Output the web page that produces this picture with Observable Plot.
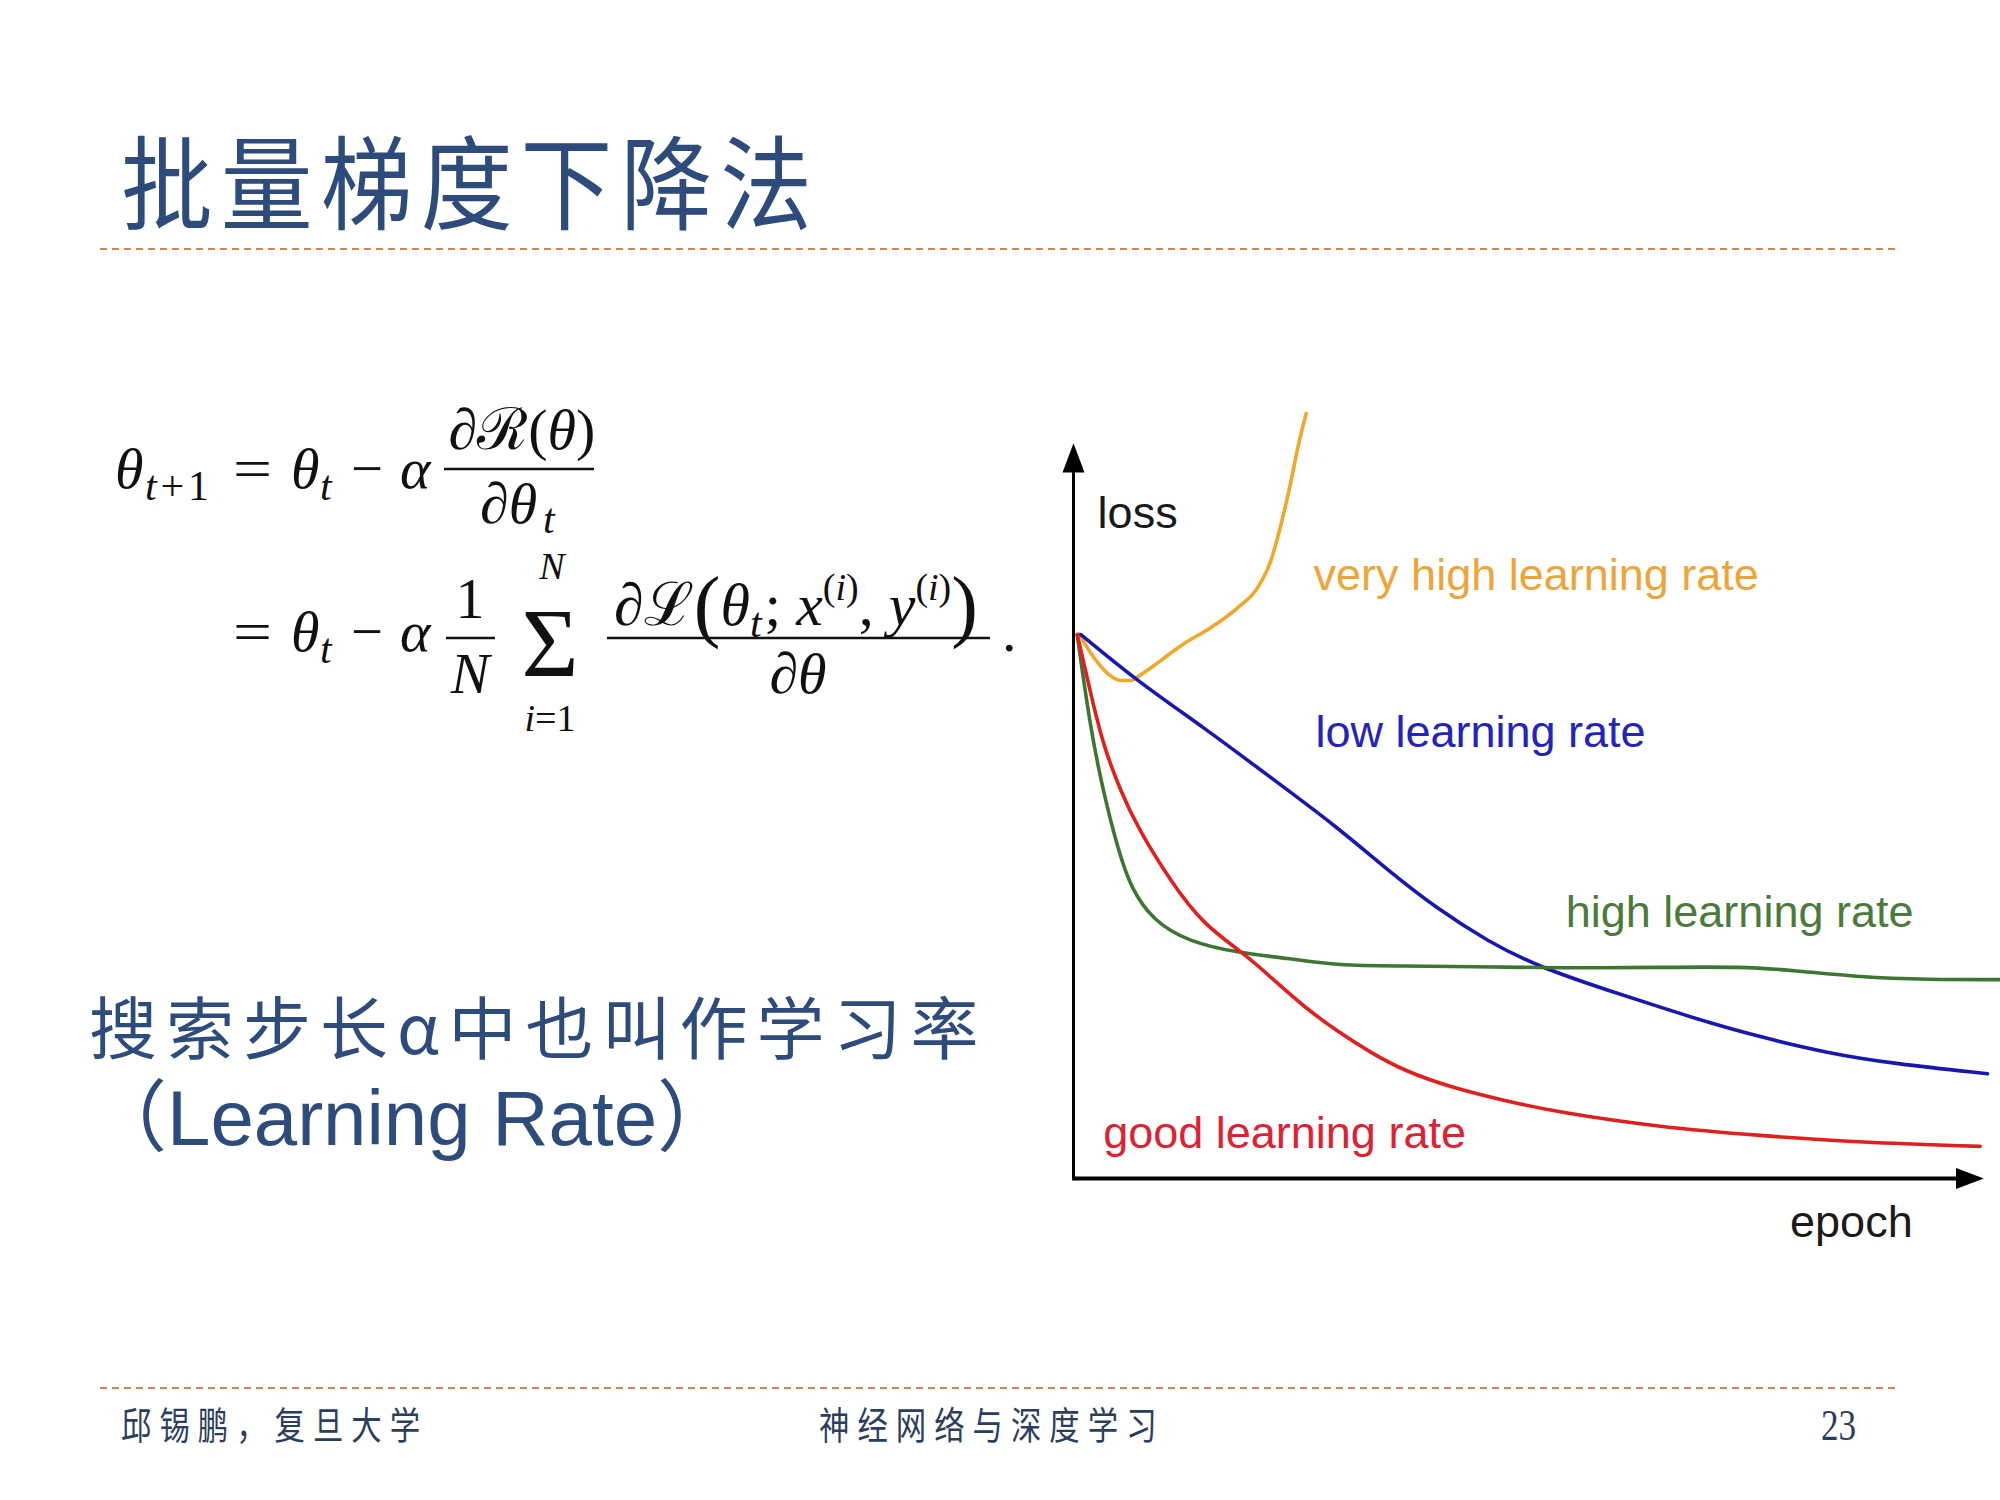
<!DOCTYPE html>
<html>
<head>
<meta charset="utf-8">
<script src="https://cdn.jsdelivr.net/npm/d3@7"></script>
<script src="https://cdn.jsdelivr.net/npm/@observablehq/plot@0.6"></script>
<style>
html, body { margin: 0; padding: 0; background: #fff; }
#page { position: relative; width: 2000px; height: 1500px; overflow: hidden; background: #fff; }
#deco { position: absolute; left: 0; top: 0; }
#chart { position: absolute; left: 1000px; top: 380px; }
</style>
</head>
<body>
<div id="page">
  <svg id="deco" width="2000" height="1500"></svg>
  <div id="chart"></div>
</div>
<script>
// ---------------- data (epoch 0–100, loss 0–100 arbitrary units) ----------------
const seriesNames = ["very high learning rate", "low learning rate", "high learning rate", "good learning rate"];
const lineColors  = ["#F0A82A", "#1818B0", "#3F7532", "#E0201E"];
const labelColors = ["#EDA53A", "#2424BB", "#4C7A3C", "#DD2233"];
const lineCurves  = ["monotone-x", "basis", "basis", "basis"];

const veryHighEpoch = [0.6, 2.2, 3.7, 5.1, 6.2, 7.2, 9.4, 11.9, 14.8, 17.7, 19.9, 21.3, 22.3, 23.4, 24.3, 25.1];
const veryHighLoss  = [71.2, 68.1, 66.0, 65.1, 65.1, 65.8, 67.7, 69.9, 72.0, 74.6, 77.3, 80.8, 85.1, 90.8, 96.1, 100];

const lowEpoch = [0.8, 6.9, 14.0, 21.3, 28.5, 33.9, 39.3, 44.7, 50.1, 57.9, 63.3, 68.7, 74.1, 81.3, 88.5, 98.6];
const lowLoss  = [71.1, 65.0, 59.0, 52.4, 45.9, 40.3, 35.2, 31.0, 27.7, 24.5, 22.4, 20.3, 18.5, 16.4, 15.0, 13.7];

const highEpoch = [0.4, 1.8, 3.2, 4.8, 6.2, 8.6, 12.3, 17.7, 23.1, 28.5, 35.6, 42.8, 52.5, 63.3, 72.3, 77.7, 84.9, 92.1, 100];
const highLoss  = [71.1, 59.0, 50.6, 43.0, 37.9, 33.7, 31.0, 29.5, 28.8, 27.8, 27.8, 27.7, 27.5, 27.6, 27.7, 27.2, 26.3, 26.0, 26.0];

const goodEpoch = [0.4, 1.8, 3.2, 5.1, 6.9, 10.5, 14.0, 18.3, 21.3, 24.8, 28.5, 32.0, 35.6, 41.0, 46.4, 52.5, 63.3, 74.1, 84.9, 97.8];
const goodLoss  = [71.1, 63.7, 56.6, 50.6, 45.9, 38.8, 33.2, 29.5, 26.3, 22.5, 19.2, 16.5, 14.1, 11.8, 10.2, 8.6, 6.7, 5.6, 4.7, 4.2];

// label anchor points (left edge, vertical middle) in data units
const labelEpoch = [25.9, 26.1, 53.1, 3.2];
const labelLoss  = [78.8, 58.3, 34.8, 5.9];

// axis titles
const axisTitles = ["loss", "epoch"];
const axisTitleEpoch = [2.6, 77.3];
const axisTitleLoss  = [86.9, -5.8];

// axis arrow tips
const axisEpochTip = 98.2;
const axisLossTip  = 96.1;

// ---------------- build tables ----------------
const seriesEpochs = [veryHighEpoch, lowEpoch, highEpoch, goodEpoch];
const seriesLosses = [veryHighLoss, lowLoss, highLoss, goodLoss];
const seriesTables = seriesNames.map((name, k) =>
  seriesEpochs[k].map((e, i) => ({series: name, epoch: e, loss: seriesLosses[k][i]})));

const axisSegments = [
  {x1: 0, y1: 0, x2: 0, y2: axisLossTip - 2.5, w: 3},
  {x1: -0.15, y1: 0, x2: axisEpochTip - 2.5, y2: 0, w: 4}
];
const axisArrows = [
  {epoch: 0, loss: axisLossTip, angle: 0, r: 11},
  {epoch: axisEpochTip, loss: 0, angle: 90, r: 10.5}
];

const arrowHead = {
  draw(context, size) {
    const r = Math.sqrt(size / Math.PI);
    context.moveTo(0, 0);
    context.lineTo(-r, 2.65 * r);
    context.lineTo(r, 2.65 * r);
    context.closePath();
  }
};

const labelFont = "'Liberation Sans', Arial, Helvetica, sans-serif";

const marks = [];
axisSegments.forEach(s => marks.push(
  Plot.link([s], {x1: "x1", y1: "y1", x2: "x2", y2: "y2", stroke: "#000", strokeWidth: s.w})));
axisArrows.forEach(a => marks.push(
  Plot.dot([a], {x: "epoch", y: "loss", symbol: arrowHead, r: a.r, rotate: a.angle, fill: "#000", stroke: "none"})));
seriesTables.forEach((tbl, k) => marks.push(
  Plot.line(tbl, {x: "epoch", y: "loss", stroke: lineColors[k], strokeWidth: 3.6, curve: lineCurves[k]})));
seriesNames.forEach((name, k) => marks.push(
  Plot.text([{text: name, epoch: labelEpoch[k], loss: labelLoss[k]}],
    {x: "epoch", y: "loss", text: "text", fill: labelColors[k], fontSize: 45, fontFamily: labelFont,
     textAnchor: "start", lineAnchor: "middle"})));
axisTitles.forEach((name, k) => marks.push(
  Plot.text([{text: name, epoch: axisTitleEpoch[k], loss: axisTitleLoss[k]}],
    {x: "epoch", y: "loss", text: "text", fill: "#1a1a1a", fontSize: 45, fontFamily: labelFont,
     textAnchor: "start", lineAnchor: "middle"})));

const chart = Plot.plot({
  width: 1000, height: 900,
  marginLeft: 73, marginRight: 0, marginTop: 33, marginBottom: 102,
  style: {background: "transparent", overflow: "visible"},
  x: {domain: [0, 100], axis: null},
  y: {domain: [0, 100], axis: null},
  marks
});
document.getElementById("chart").appendChild(chart);

// ---------------- slide decoration & text ----------------
const deco = d3.select("#deco");
const titleColor = "#2D4C7C";
const dashColor = "#D8834D";
const cjk = "'Noto Sans CJK SC', 'Noto Sans', sans-serif";
const mathFont = "'Liberation Serif', 'DejaVu Serif', serif";

// title
deco.append("text")
  .attr("transform", "scale(0.9,1)")
  .attr("x", 121 / 0.9).attr("y", 222)
  .attr("font-family", cjk).attr("font-size", 102).attr("font-weight", 400)
  .attr("letter-spacing", 9)
  .attr("fill", titleColor)
  .text("批量梯度下降法");

// dashed rules
[249, 1388].forEach(y => deco.append("line")
  .attr("x1", 100).attr("x2", 1900).attr("y1", y).attr("y2", y)
  .attr("stroke", dashColor).attr("stroke-width", 2.2).attr("stroke-dasharray", "7 5"));

// footer
function footer(x, str) {
  deco.append("text")
    .attr("transform", "scale(0.8,1)")
    .attr("x", x / 0.8).attr("y", 1439)
    .attr("font-family", cjk).attr("font-size", 38)
    .attr("letter-spacing", 10)
    .attr("fill", "#2B3E5E").text(str);
}
footer(121, "邱锡鹏，复旦大学");
footer(819, "神经网络与深度学习");
deco.append("text")
  .attr("transform", "scale(0.8,1)")
  .attr("x", 1821 / 0.8).attr("y", 1440)
  .attr("font-family", mathFont).attr("font-size", 44)
  .attr("fill", "#2B3E5E").text("23");

// body text
deco.append("text")
  .attr("x", 89).attr("y", 1054)
  .attr("font-family", cjk).attr("font-size", 68).attr("letter-spacing", 9)
  .attr("fill", titleColor).text("搜索步长α中也叫作学习率");
deco.append("text")
  .attr("x", 89).attr("y", 1145)
  .attr("font-family", "'Liberation Sans', 'Noto Sans CJK SC', sans-serif").attr("font-size", 78)
  .attr("fill", titleColor).text("（Learning Rate）");

// formula
const mathColor = "#111";
function m(x, y, size, html, anchor = "start", extra = {}) {
  const el = deco.append("text")
    .attr("x", x).attr("y", y)
    .attr("font-family", mathFont).attr("font-size", size)
    .attr("text-anchor", anchor).attr("fill", mathColor)
    .html(html);
  Object.entries(extra).forEach(([k, v]) => el.attr(k, v));
  return el;
}
function bar(x1, x2, y) {
  deco.append("line").attr("x1", x1).attr("x2", x2).attr("y1", y).attr("y2", y)
    .attr("stroke", mathColor).attr("stroke-width", 2.4);
}
const I = s => `<tspan font-style="italic">${s}</tspan>`;
const F = 58, S = 42;

// line 1
m(115, 488, F, I("θ"));
m(145, 500, S, I("t") + "+1", "start", {textLength: 64, lengthAdjust: "spacing"});
m(233, 488, F, "=", "start", {textLength: 39, lengthAdjust: "spacingAndGlyphs"});
m(291, 488, F, I("θ"));
m(320, 500, S, I("t"));
m(351, 488, F, "−", "start", {textLength: 32, lengthAdjust: "spacingAndGlyphs"});
m(400, 488, F, I("α"));
bar(444, 594, 469);
m(522, 449, F, I("∂") + "ℛ(" + I("θ") + ")", "middle");
m(480, 523, F, I("∂θ"));
m(543, 533, S, I("t"));

// line 2
m(233, 651, F, "=", "start", {textLength: 39, lengthAdjust: "spacingAndGlyphs"});
m(291, 651, F, I("θ"));
m(320, 663, S, I("t"));
m(351, 651, F, "−", "start", {textLength: 32, lengthAdjust: "spacingAndGlyphs"});
m(400, 651, F, I("α"));
bar(446, 495, 638);
m(470, 618, F, "1", "middle");
m(470, 693, F, I("N"), "middle");
m(550, 676, 98, "Σ", "middle");
m(552, 579, 38, I("N"), "middle");
m(550, 731, 38, I("i") + "=1", "middle");
bar(607, 990, 638);
m(796, 625, 60,
  I("∂") + "ℒ" +
  `<tspan font-size="80" dy="7">(</tspan>` +
  `<tspan font-style="italic" dy="-7">θ</tspan>` +
  `<tspan font-size="${S}" font-style="italic" dy="12">t</tspan>` +
  `<tspan dy="-12" dx="3">; </tspan>` + I("x") +
  `<tspan font-size="38" dy="-25">(<tspan font-style="italic">i</tspan>)</tspan>` +
  `<tspan dy="25">, </tspan>` + I("y") +
  `<tspan font-size="38" dy="-25">(<tspan font-style="italic">i</tspan>)</tspan>` +
  `<tspan font-size="80" dy="32">)</tspan>`,
  "middle");
m(798, 693, F, I("∂θ"), "middle");
m(1002, 651, F, ".");
</script>
</body>
</html>
